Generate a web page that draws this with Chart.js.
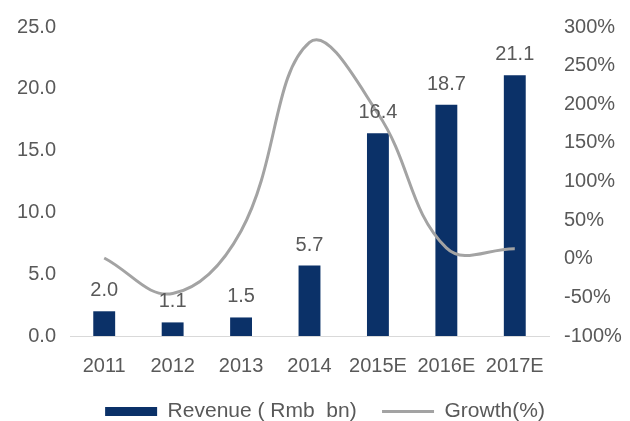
<!DOCTYPE html>
<html>
<head>
<meta charset="utf-8">
<script src="https://cdn.jsdelivr.net/npm/chart.js@4"></script>
<style>
  html, body { margin: 0; padding: 0; background: #fff; }
  #wrap { width: 630px; height: 421px; }
</style>
</head>
<body>
<div id="wrap"><canvas id="revChart" width="630" height="421"></canvas></div>
<script>
let years = ["2011", "2012", "2013", "2014", "2015E", "2016E", "2017E"];
let revenue = [2.0, 1.1, 1.5, 5.7, 16.4, 18.7, 21.1];
let growth = [1, -45, 36, 280, 188, 14, 13];

let textGrey = "#595959";
let fontFamily = "'Liberation Sans', Arial, sans-serif";

// value labels above each revenue bar
const barLabels = {
    id: "barLabels",
    afterDatasetsDraw(chart) {
        let ctx = chart.ctx;
        let meta = chart.getDatasetMeta(1);
        ctx.save();
        ctx.font = "20px " + fontFamily;
        ctx.fillStyle = textGrey;
        ctx.textAlign = "center";
        ctx.textBaseline = "alphabetic";
        meta.data.forEach((bar, i) => {
            ctx.fillText(revenue[i].toFixed(1), bar.x, bar.y - 15);
        });
        ctx.restore();
    }
};

// nudge the legend a little right and down
const legendShift = {
    id: "legendShift",
    afterLayout(chart) {
        let lg = chart.legend;
        lg.left += 10;
        lg.right += 10;
        lg.top += 11;
        lg.bottom += 11;
    }
};

let ctx = document.getElementById("revChart").getContext("2d");

let revChart = new Chart(ctx, {
    type: "bar",
    data: {
        labels: years,
        datasets: [{
            type: "line",
            label: "Growth(%)",
            data: growth,
            yAxisID: "y1",
            borderColor: "#a3a3a3",
            backgroundColor: "#a3a3a3",
            borderWidth: 3,
            pointRadius: 0,
            tension: 0.4,
            order: 0
        }, {
            label: "Revenue ( Rmb  bn)",
            data: revenue,
            yAxisID: "y",
            backgroundColor: "#0b3168",
            barPercentage: 0.32,
            categoryPercentage: 1,
            order: 1
        }]
    },
    options: {
        responsive: false,
        animation: false,
        layout: { padding: { top: 14, left: 0, right: 0, bottom: 0 } },
        scales: {
            x: {
                grid: { display: false, drawTicks: false },
                border: { color: "#d9d9d9", width: 1 },
                ticks: { color: textGrey, font: { size: 20, family: fontFamily }, padding: 18 },
                afterFit(axis) { axis.height = 52; }
            },
            y: {
                position: "left",
                min: 0,
                max: 25,
                grid: { display: false, drawTicks: false },
                border: { display: false },
                ticks: {
                    stepSize: 5,
                    color: textGrey,
                    font: { size: 20, family: fontFamily },
                    padding: 14,
                    callback: v => v.toFixed(1)
                },
                afterFit(axis) { axis.width = 70; }
            },
            y1: {
                position: "right",
                min: -100,
                max: 300,
                grid: { display: false, drawTicks: false },
                border: { display: false },
                ticks: {
                    stepSize: 50,
                    color: textGrey,
                    font: { size: 20, family: fontFamily },
                    padding: 15,
                    callback: v => v + "%"
                },
                afterFit(axis) { axis.width = 81; }
            }
        },
        plugins: {
            tooltip: { enabled: false },
            legend: {
                position: "bottom",
                reverse: true,
                labels: {
                    color: textGrey,
                    font: { size: 21, family: fontFamily },
                    usePointStyle: true,
                    pointStyleWidth: 52,
                    boxHeight: 9,
                    padding: 2,
                    generateLabels(chart) {
                        return chart.data.datasets.map((ds, i) => ({
                            // extra trailing spaces keep the two entries apart
                            text: ds.type === "line" ? ds.label : ds.label + "    ",
                            fillStyle: ds.backgroundColor,
                            strokeStyle: ds.type === "line" ? ds.borderColor : ds.backgroundColor,
                            lineWidth: ds.type === "line" ? 3 : 0,
                            pointStyle: ds.type === "line" ? "line" : "rect",
                            fontColor: textGrey,
                            datasetIndex: i
                        }));
                    }
                }
            }
        }
    },
    plugins: [barLabels, legendShift]
});
</script>
</body>
</html>
